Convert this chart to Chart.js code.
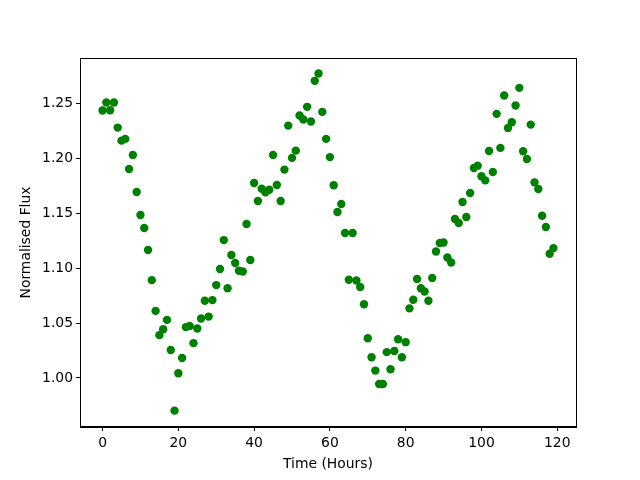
<!DOCTYPE html>
<html>
<head>
<meta charset="utf-8">
<script src="https://cdn.jsdelivr.net/npm/chart.js@4/dist/chart.umd.min.js"></script>
<style>
  html, body { margin: 0; padding: 0; background: #ffffff; }
  #wrap { width: 640px; height: 480px; }
</style>
</head>
<body>
<div id="wrap"><canvas id="c" width="640" height="480"></canvas></div>
<script>
const timeHours = [
  0, 1, 2, 3, 4, 5, 6, 7, 8, 9,
  10, 11, 12, 13, 14, 15, 16, 17, 18, 19,
  20, 21, 22, 23, 24, 25, 26, 27, 28, 29,
  30, 31, 32, 33, 34, 35, 36, 37, 38, 39,
  40, 41, 42, 43, 44, 45, 46, 47, 48, 49,
  50, 51, 52, 53, 54, 55, 56, 57, 58, 59,
  60, 61, 62, 63, 64, 65, 66, 67, 68, 69,
  70, 71, 72, 73, 74, 75, 76, 77, 78, 79,
  80, 81, 82, 83, 84, 85, 86, 87, 88, 89,
  90, 91, 92, 93, 94, 95, 96, 97, 98, 99,
  100, 101, 102, 103, 104, 105, 106, 107, 108, 109,
  110, 111, 112, 113, 114, 115, 116, 117, 118, 119
];
const normalisedFlux = [
  1.2436, 1.2509, 1.2439, 1.2509, 1.2281, 1.2162, 1.2178, 1.1904, 1.2032, 1.1694,
  1.1484, 1.1366, 1.1165, 1.0891, 1.0611, 1.0390, 1.0444, 1.0529, 1.0255, 0.9702,
  1.0043, 1.0182, 1.0463, 1.0474, 1.0317, 1.0450, 1.0541, 1.0703, 1.0559, 1.0709,
  1.0846, 1.0992, 1.1256, 1.0818, 1.1120, 1.1047, 1.0976, 1.0970, 1.1402, 1.1074,
  1.1776, 1.1612, 1.1724, 1.1691, 1.1715, 1.2032, 1.1758, 1.1612, 1.1898, 1.2299,
  1.2005, 1.2071, 1.2391, 1.2354, 1.2470, 1.2336, 1.2707, 1.2774, 1.2424, 1.2178,
  1.2012, 1.1756, 1.1512, 1.1585, 1.1320, 1.0894, 1.1320, 1.0888, 1.0828, 1.0672,
  1.0362, 1.0189, 1.0067, 0.9945, 0.9945, 1.0235, 1.0079, 1.0246, 1.0353, 1.0189,
  1.0326, 1.0634, 1.0712, 1.0901, 1.0818, 1.0787, 1.0703, 1.0910, 1.1152, 1.1229,
  1.1234, 1.1098, 1.1052, 1.1448, 1.1412, 1.1603, 1.1466, 1.1685, 1.1913, 1.1934,
  1.1837, 1.1800, 1.2068, 1.1877, 1.2406, 1.2096, 1.2573, 1.2278, 1.2329, 1.2482,
  1.2643, 1.2065, 1.1995, 1.2308, 1.1782, 1.1722, 1.1478, 1.1375, 1.1131, 1.1183
];
const xTickValues = [0, 20, 40, 60, 80, 100, 120];
const yTickValues = [1.00, 1.05, 1.10, 1.15, 1.20, 1.25];
const xLabel = 'Time (Hours)';
const yLabel = 'Normalised Flux';

const points = timeHours.map((t, i) => ({ x: t, y: normalisedFlux[i] }));

const FONT = { family: 'DejaVu Sans', size: 13.9 };

const framePlugin = {
  id: 'frame',
  afterDatasetsDraw(chart) {
    const a = chart.chartArea;
    const ctx = chart.ctx;
    ctx.save();
    ctx.strokeStyle = '#000000';
    ctx.lineWidth = 1;
    ctx.strokeRect(Math.round(a.left) + 0.5, Math.round(a.top) + 0.5,
                   Math.round(a.right - a.left), Math.round(a.bottom - a.top) - 1);
    ctx.restore();
  }
};

new Chart(document.getElementById('c'), {
  type: 'scatter',
  data: {
    datasets: [{
      data: points,
      backgroundColor: '#008000',
      borderColor: '#008000',
      borderWidth: 0,
      pointRadius: 4.2,
      pointHoverRadius: 4.2
    }]
  },
  options: {
    responsive: false,
    animation: false,
    devicePixelRatio: 1,
    layout: { padding: { left: 0, right: 64, top: 58, bottom: 0 } },
    plugins: {
      legend: { display: false },
      tooltip: { enabled: false }
    },
    scales: {
      x: {
        type: 'linear',
        min: -5.95,
        max: 124.95,
        afterFit(scale) { scale.height = 53; },
        afterBuildTicks(scale) { scale.ticks = xTickValues.map(v => ({ value: v })); },
        grid: {
          drawOnChartArea: false,
          drawTicks: true,
          tickLength: 4,
          color: '#000000'
        },
        border: { display: true, color: '#000000', width: 1 },
        ticks: {
          color: '#000000',
          font: FONT,
          padding: 4,
          maxRotation: 0,
          autoSkip: false,
          callback: v => String(Math.round(v))
        },
        title: {
          display: true,
          text: xLabel,
          color: '#000000',
          font: FONT,
          padding: { top: 0, bottom: 7 }
        }
      },
      y: {
        type: 'linear',
        min: 0.9553,
        max: 1.2915,
        afterFit(scale) { scale.width = 80; },
        afterBuildTicks(scale) { scale.ticks = yTickValues.map(v => ({ value: v })); },
        grid: {
          drawOnChartArea: false,
          drawTicks: true,
          tickLength: 4,
          color: '#000000'
        },
        border: { display: true, color: '#000000', width: 1 },
        ticks: {
          color: '#000000',
          font: FONT,
          padding: 3,
          autoSkip: false,
          callback: v => Number(v).toFixed(2)
        },
        title: {
          display: true,
          text: yLabel,
          color: '#000000',
          font: FONT,
          padding: { top: 18, bottom: 0 }
        }
      }
    }
  },
  plugins: [framePlugin]
});
</script>
</body>
</html>
